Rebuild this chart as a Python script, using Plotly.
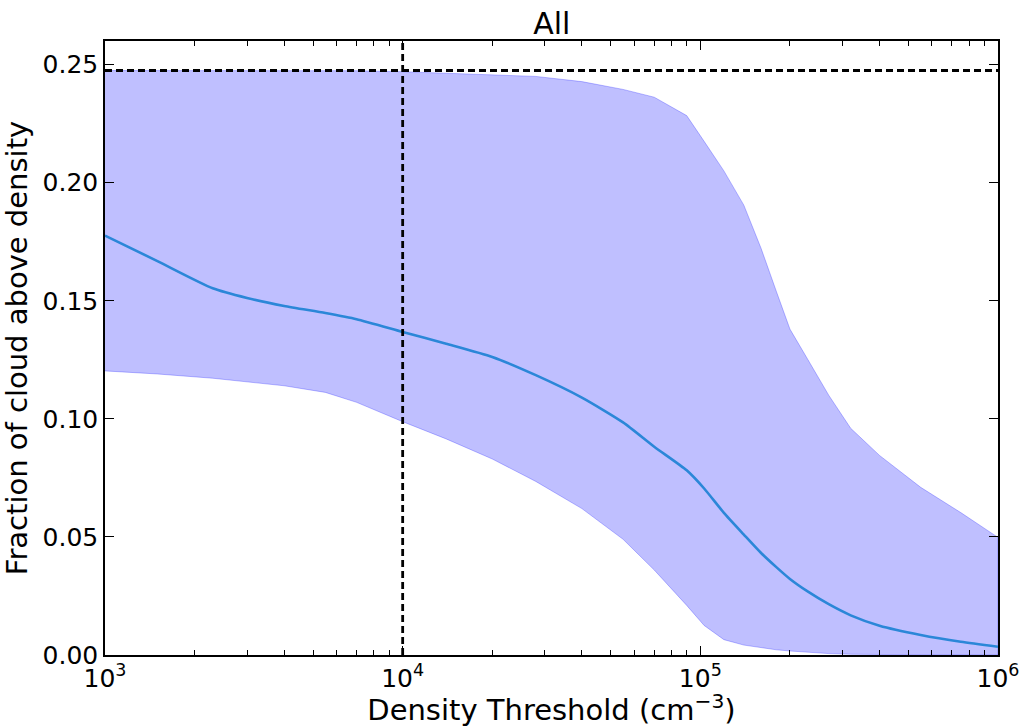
import plotly.graph_objects as go

# Density thresholds (cm^-3)
density = [1000, 1500, 2300, 3000, 4000, 5500, 7000, 10000, 14000, 20000,
           28000, 40000, 55000, 70000, 90000, 103000, 120000, 140000, 160000,
           180000, 200000, 230000, 270000, 320000, 400000, 550000, 750000,
           1000000]

# Mean fraction of cloud above each threshold
frac_mean = [0.1776, 0.1668, 0.1553, 0.1512, 0.1478, 0.1448, 0.1422, 0.1368,
             0.1318, 0.1262, 0.1185, 0.1090, 0.0985, 0.0882, 0.0782, 0.0705,
             0.0602, 0.0510, 0.0432, 0.0372, 0.0322, 0.0268, 0.0215, 0.0168,
             0.0124, 0.0085, 0.0056, 0.0035]

# Lower and upper envelope of the fraction
frac_low = [0.1203, 0.1190, 0.1172, 0.1158, 0.1140, 0.1112, 0.1070, 0.0988,
            0.0915, 0.0830, 0.0735, 0.0620, 0.0490, 0.0360, 0.0210, 0.0125,
            0.0065, 0.0042, 0.0030, 0.0022, 0.0017, 0.0011, 0.0006, 0.0003,
            0.0001, 0.0, 0.0, 0.0]

frac_high = [0.2475, 0.2475, 0.2475, 0.2475, 0.2475, 0.2475, 0.2474, 0.2470,
             0.2463, 0.2458, 0.2450, 0.2428, 0.2395, 0.2362, 0.2284, 0.2175,
             0.2050, 0.1905, 0.1722, 0.1540, 0.1380, 0.1250, 0.1100, 0.0960,
             0.0845, 0.0710, 0.0603, 0.0498]

ref_fraction = 0.2475
ref_density = 1e4

x_ticks = [1e3, 1e4, 1e5, 1e6]
x_ticktext = ["10<sup>3</sup>", "10<sup>4</sup>", "10<sup>5</sup>", "10<sup>6</sup>"]
y_ticks = [0.0, 0.05, 0.10, 0.15, 0.20, 0.25]
y_ticktext = ["0.00", "0.05", "0.10", "0.15", "0.20", "0.25"]

FONT = "DejaVu Sans"
DASH = dict(color="black", width=2.8, dash="7px,4px")

fig = go.Figure()

# shaded envelope
fig.add_trace(go.Scatter(
    x=density + density[::-1],
    y=frac_high + frac_low[::-1],
    fill="toself",
    fillcolor="rgba(0,0,255,0.25)",
    line=dict(color="rgba(0,0,255,0.25)", width=1),
    mode="lines",
    hoverinfo="skip",
    showlegend=False,
))

# mean curve
fig.add_trace(go.Scatter(
    x=density, y=frac_mean, mode="lines",
    line=dict(color="rgb(43,135,216)", width=2.6, shape="spline", smoothing=0.6),
    showlegend=False,
))

# reference lines
fig.add_trace(go.Scatter(
    x=[1e3, 1e6], y=[ref_fraction, ref_fraction], mode="lines",
    line=DASH, showlegend=False,
))
fig.add_trace(go.Scatter(
    x=[ref_density, ref_density], y=[0, 0.26], mode="lines",
    line=DASH, showlegend=False,
))

fig.update_layout(
    width=1019, height=727,
    margin=dict(l=105, r=21, t=41, b=72),
    paper_bgcolor="white", plot_bgcolor="white",
    font=dict(family=FONT, color="black"),
    title=dict(text="All", x=0.5415, xanchor="center", y=0.968, yanchor="middle",
               font=dict(size=30, family=FONT, color="black")),
)

fig.update_xaxes(
    type="log", range=[3, 6],
    tickvals=x_ticks, ticktext=x_ticktext,
    ticks="inside", ticklen=9, tickwidth=1, tickcolor="black",
    minor=dict(ticks="inside", ticklen=5, tickwidth=1, tickcolor="black",
               dtick="D1"),
    showline=True, linecolor="black", linewidth=1.5, mirror="ticks",
    showgrid=False, zeroline=False,
    automargin=False,
    ticklabeloverflow="allow",
    tickfont=dict(size=25, family=FONT),
    title=dict(text="Density Threshold (cm<sup>\u22123</sup>)",
               font=dict(size=29, family=FONT), standoff=7),
)

fig.update_yaxes(
    range=[0, 0.26],
    tickvals=y_ticks, ticktext=y_ticktext,
    ticks="inside", ticklen=9, tickwidth=1, tickcolor="black",
    showline=True, linecolor="black", linewidth=1.5, mirror="ticks",
    showgrid=False, zeroline=False,
    automargin=False,
    tickfont=dict(size=25, family=FONT),
    title=dict(text="Fraction of cloud above density",
               font=dict(size=29, family=FONT), standoff=6),
)

fig.write_html("out.html")
